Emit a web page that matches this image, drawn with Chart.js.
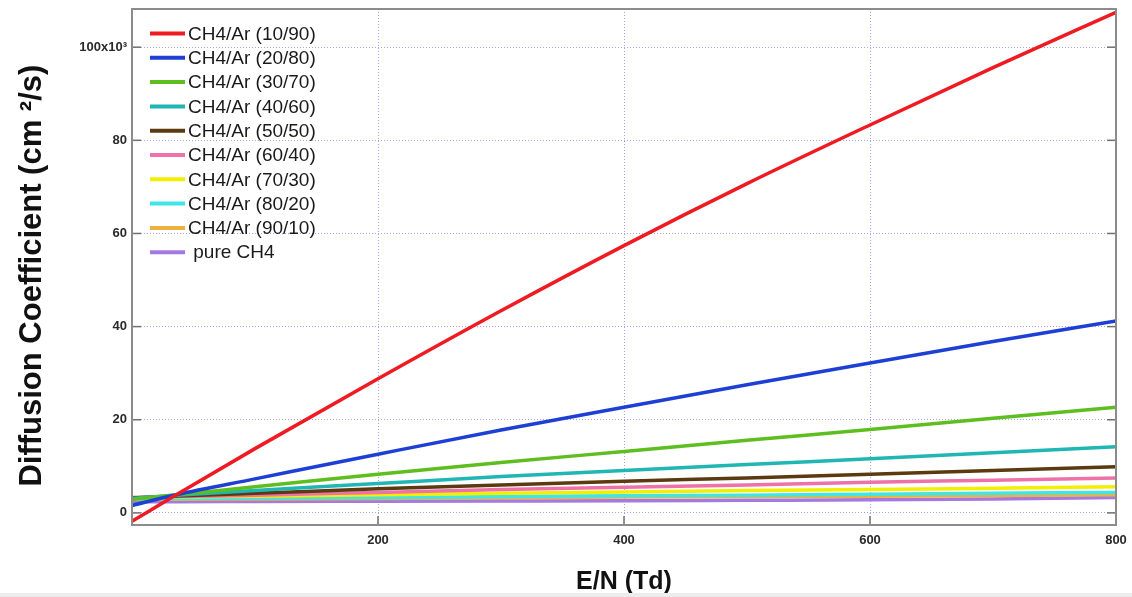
<!DOCTYPE html>
<html>
<head>
<meta charset="utf-8">
<script src="https://cdn.jsdelivr.net/npm/chart.js@4.4.1/dist/chart.umd.min.js"></script>
<style>
  html, body { margin: 0; padding: 0; background: #fff; }
  #wrap { position: relative; width: 1132px; height: 597px; }
  #strip { position: absolute; left: 0; top: 593px; width: 1132px; height: 4px; background: #ededed; }
</style>
</head>
<body>
<div id="wrap">
  <canvas id="graphique" width="1132" height="597"></canvas>
  <div id="strip"></div>
</div>
<script>
// E/N (Td) sample points
var enValues = [0, 36, 100, 200, 300, 400, 500, 600, 700, 800];

var seriesLabels = ['CH4/Ar (10/90)', 'CH4/Ar (20/80)', 'CH4/Ar (30/70)', 'CH4/Ar (40/60)', 'CH4/Ar (50/50)',
                    'CH4/Ar (60/40)', 'CH4/Ar (70/30)', 'CH4/Ar (80/20)', 'CH4/Ar (90/10)', ' pure CH4'];
var seriesColors = ['#ee1b22', '#1e3fd4', '#5fbe1f', '#1fb6b4', '#5a3a0e',
                    '#ee72a8', '#f2f000', '#40e6e6', '#f0b040', '#a47ae0'];

// diffusion coefficient, x10^3 cm2/s
var ar90 = [-1.8, 3.9, 13.8, 28.8, 43.4, 57.4, 70.7, 83.3, 95.6, 107.5];
var ar80 = [1.6, 3.9, 7.3, 12.6, 17.8, 22.7, 27.5, 32.2, 36.8, 41.2];
var ar70 = [2.9, 3.9, 5.6, 8.3, 10.8, 13.2, 15.6, 17.9, 20.3, 22.7];
var ar60 = [3.1, 3.8, 4.8, 6.3, 7.8, 9.1, 10.4, 11.6, 12.9, 14.2];
var ar50 = [3.2, 3.6, 4.2, 5.2, 6.0, 6.8, 7.5, 8.3, 9.1, 9.9];
var ar40 = [3.3, 3.5, 3.8, 4.4, 5.0, 5.5, 6.0, 6.6, 7.0, 7.5];
var ar30 = [3.3, 3.4, 3.6, 3.9, 4.2, 4.5, 4.8, 5.0, 5.3, 5.6];
var ar20 = [3.0, 3.1, 3.2, 3.3, 3.5, 3.7, 3.8, 4.0, 4.2, 4.4];
var ar10 = [2.9, 2.95, 3.0, 3.1, 3.25, 3.4, 3.5, 3.6, 3.75, 3.9];
var pureCH4 = [2.4, 2.4, 2.45, 2.5, 2.55, 2.6, 2.7, 2.8, 3.0, 3.3];

var allSeries = [ar90, ar80, ar70, ar60, ar50, ar40, ar30, ar20, ar10, pureCH4];

var yTicks = [0, 20, 40, 60, 80, 100];
var xTicks = [200, 400, 600, 800];

var datasets = [];
for (var i in allSeries) {
  datasets.push({
    label: seriesLabels[i],
    data: enValues.map(function(x, j) { return {x: x, y: allSeries[i][j]}; }),
    borderColor: seriesColors[i],
    backgroundColor: seriesColors[i],
    borderWidth: 3.5,
    pointRadius: 0,
    cubicInterpolationMode: 'monotone',
    fill: false
  });
}

// legend drawn inside the plot, top left, like the original figure
var insideLegend = {
  id: 'insideLegend',
  afterDraw: function(chart) {
    var ctx = chart.ctx;
    var a = chart.chartArea;
    ctx.save();
    // small inward tick marks
    ctx.strokeStyle = '#707070';
    ctx.lineWidth = 1.5;
    var xs = chart.scales.x, ys = chart.scales.y;
    xTicks.forEach(function(v) {
      var px = xs.getPixelForValue(v);
      ctx.beginPath(); ctx.moveTo(px, a.bottom); ctx.lineTo(px, a.bottom - 9); ctx.stroke();
    });
    yTicks.forEach(function(v) {
      var py = ys.getPixelForValue(v);
      ctx.beginPath(); ctx.moveTo(a.left, py); ctx.lineTo(a.left + 9, py); ctx.stroke();
      ctx.beginPath(); ctx.moveTo(a.right, py); ctx.lineTo(a.right - 9, py); ctx.stroke();
    });
    // frame box round the plot
    ctx.strokeStyle = '#8c8c8c';
    ctx.lineWidth = 2;
    ctx.strokeRect(a.left, a.top, a.right - a.left, a.bottom - a.top);

    ctx.font = '19px Arial, "Liberation Sans", sans-serif';
    ctx.textBaseline = 'middle';
    chart.data.datasets.forEach(function(ds, k) {
      var y = 33.5 + k * 24.3;
      ctx.strokeStyle = ds.borderColor;
      ctx.lineWidth = 4;
      ctx.beginPath();
      ctx.moveTo(150, y);
      ctx.lineTo(185, y);
      ctx.stroke();
      ctx.fillStyle = '#1a1a1a';
      ctx.fillText(ds.label, 188, y + 1);
    });
    ctx.restore();
  }
};

var tickFont = { family: 'Arial, "Liberation Sans", sans-serif', size: 13, weight: 'bold' };
var gridStyle = { color: 'rgba(100,100,230,0.6)', lineWidth: 1, drawTicks: false };

function noLabelPadding(scale) {
  scale.paddingTop = 0;
  scale.paddingBottom = 0;
  scale.paddingLeft = 0;
  scale.paddingRight = 0;
}

var ctx = document.getElementById('graphique');
var chart = new Chart(ctx, {
  type: 'line',
  data: { datasets: datasets },
  plugins: [insideLegend],
  options: {
    responsive: false,
    devicePixelRatio: 1,
    animation: false,
    layout: { padding: { left: 0, right: 16, top: 9, bottom: 0 } },
    plugins: { legend: { display: false }, tooltip: { enabled: false } },
    scales: {
      x: {
        type: 'linear',
        min: 0,
        max: 800,
        afterBuildTicks: function(axis) { axis.ticks = xTicks.map(function(v) { return {value: v}; }); },
        afterFit: function(scale) { scale.height = 72; noLabelPadding(scale); },
        grid: gridStyle,
        border: { display: false, dash: [1, 2] },
        ticks: { font: tickFont, color: '#2a2a2a', padding: 8, maxRotation: 0 },
        title: {
          display: true,
          text: 'E/N (Td)',
          color: '#111',
          font: { family: 'Arial, "Liberation Sans", sans-serif', size: 25, weight: 'bold' },
          padding: { top: 0, bottom: 0 }
        }
      },
      y: {
        min: -2.6,
        max: 108.2,
        afterBuildTicks: function(axis) { axis.ticks = yTicks.map(function(v) { return {value: v}; }); },
        afterFit: function(scale) { scale.width = 132; noLabelPadding(scale); },
        grid: gridStyle,
        border: { display: false, dash: [1, 2] },
        ticks: {
          font: tickFont,
          color: '#2a2a2a',
          padding: 5,
          callback: function(v) { return v === 100 ? '100x10³' : v; }
        },
        title: {
          display: true,
          text: 'Diffusion Coefficient (cm ²/s)\u00a0\u00a0',
          color: '#111',
          font: { family: 'Arial, "Liberation Sans", sans-serif', size: 31, weight: 'bold' },
          padding: { top: 14, bottom: 0 }
        }
      }
    }
  }
});
</script>
</body>
</html>
